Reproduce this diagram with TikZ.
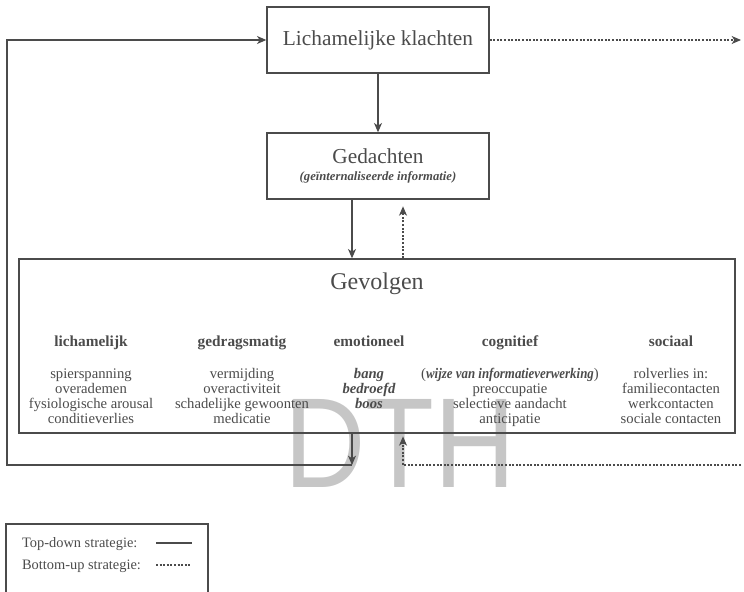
\documentclass[tikz,border=0pt]{standalone}
\usepackage{fontspec}
\setmainfont{Liberation Serif}
\newfontfamily\markfont{Liberation Sans}
\usepackage{graphicx}
\usetikzlibrary{arrows.meta}

\definecolor{ink}{RGB}{75,75,75}

\begin{document}
\begin{tikzpicture}[x=0.75pt, y=-0.75pt, line width=1pt, >={Stealth[length=7pt, width=6pt, inset=2pt]}, color=ink, text=ink,
    box/.style = {draw, minimum width=166.5pt, minimum height=49.5pt, inner sep=0pt, align=center},
    head/.style = {font=\fontsize{11.5}{13}\selectfont\bfseries, anchor=base},
    item/.style = {font=\fontsize{11}{11.25}\selectfont, anchor=north, align=center, inner sep=0pt},
    dots/.style = {dash pattern=on 1.5pt off 1.2pt}]
\useasboundingbox (0,0) rectangle (744,592);
% watermark
\node[text=gray!45, font=\markfont\fontsize{96}{96}\selectfont, anchor=base] (mark) at (400,487) {\scalebox{0.88}[1]{DTH}};

    \node[box, font=\fontsize{16}{18}\selectfont] (klachten) at (378,40) {Lichamelijke klachten};
    \node[box] (gedachten) at (378,166) {{\fontsize{16}{18}\selectfont Gedachten}\\[1pt]
        {\fontsize{9.5}{11}\selectfont\bfseries\itshape (geïnternaliseerde informatie)}};
    \node[draw, minimum width=537pt, minimum height=130.5pt, inner sep=0pt] (gevolgen) at (377,346) {};
    \node[font=\fontsize{18}{20}\selectfont] (titel) at (377,284) {Gevolgen};

    \node[head] (h1) at (91,346) {lichamelijk};
    \node[head] (h2) at (242,346) {gedragsmatig};
    \node[head] (h3) at (369,346) {emotioneel};
    \node[head] (h4) at (510,346) {cognitief};
    \node[head] (h5) at (671,346) {sociaal};

    \node[item] (i1) at (91,368) {spierspanning\\overademen\\fysiologische arousal\\conditieverlies};
    \node[item] (i2) at (242,368) {vermijding\\overactiviteit\\schadelijke gewoonten\\medicatie};
    \node[item, font=\fontsize{11}{11.25}\selectfont\bfseries\itshape] (i3) at (369,368) {bang\\bedroefd\\boos};
    \node[item] (i4) at (510,368) {({\bfseries\itshape\scalebox{0.88}[1]{wijze van informatieverwerking}})\\preoccupatie\\selectieve aandacht\\anticipatie};
    \node[item] (i5) at (671,368) {rolverlies in:\\familiecontacten\\werkcontacten\\sociale contacten};

    \coordinate (down) at (352,465);
    \coordinate (up) at (403,465);
    \coordinate (links) at (7,465);
    \coordinate (rechtsin) at (741,465);
    \coordinate (rechtsuit) at (741,40);

\draw[->] (klachten) -- (gedachten);
\draw[->] (gedachten.south -| down) -- (gevolgen.north -| down);
\draw[->, dots, shorten >=5pt] (gevolgen.north -| up) -- (gedachten.south -| up);
\draw[->] (gevolgen.south -| down) -- (down);
\draw[->] (down) -- (links) |- (klachten.west);
\draw[->, dots] (klachten.east) -- (rechtsuit);
\draw[->, dots, shorten >=2pt] (rechtsin) -- (up) -- (gevolgen.south -| up);

% legenda
\draw (6,600) |- (208,524) -- (208,600);
    \node[anchor=base west, font=\fontsize{10.8}{13}\selectfont] (topdown) at (17,547) {Top-down strategie:};
    \node[anchor=base west, font=\fontsize{10.8}{13}\selectfont] (bottomup) at (17,569) {Bottom-up strategie:};
\draw (156,543) -- (192,543);
\draw[dots] (156,565) -- (192,565);
\end{tikzpicture}
\end{document}
